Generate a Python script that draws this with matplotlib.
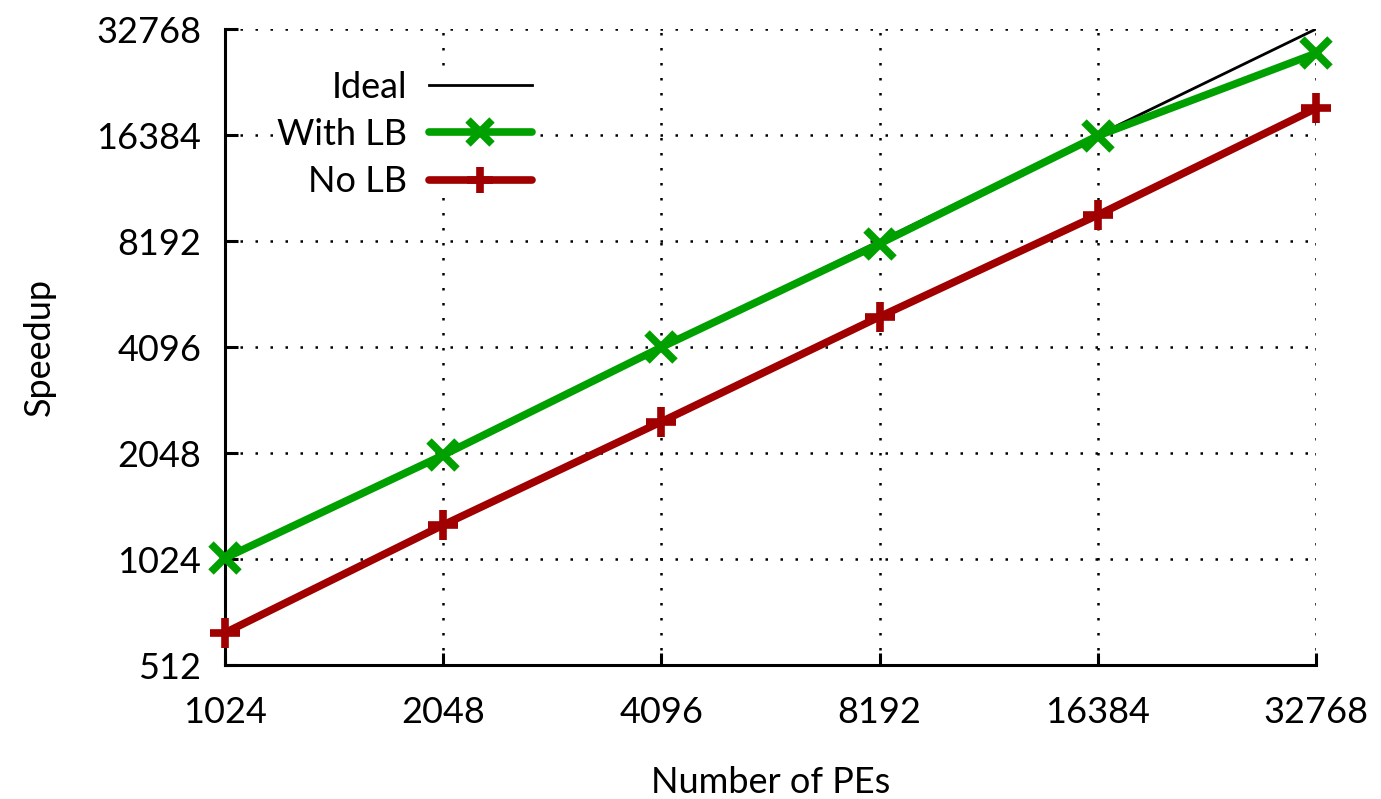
import matplotlib
matplotlib.use("Agg")
import matplotlib.pyplot as plt
from matplotlib.ticker import FixedLocator, NullLocator

plt.rcParams['font.family'] = ['Lato', 'DejaVu Sans']

# speedup measurements (strong scaling)
pes = [1024, 2048, 4096, 8192, 16384, 32768]
ideal = [1024, 2048, 4096, 8192, 16384, 32768]
with_lb = [1030, 2020, 4090, 8050, 16300, 27960]
no_lb = [632, 1279, 2513, 4993, 9710, 19510]
ticks_y = [512, 1024, 2048, 4096, 8192, 16384, 32768]

fs = 26

fig = plt.figure(figsize=(13.81, 7.99), dpi=100)
ax = fig.add_axes([0.1629, 0.1677, 0.953 - 0.1629, 0.9637 - 0.1677])

ax.plot(pes, ideal, color='black', lw=2, label='Ideal', zorder=3)
ax.plot(pes, with_lb, color='#00a000', lw=5.5, marker='x', ms=20, mew=5.5,
        solid_capstyle='round', label='With LB', zorder=4, clip_on=False)
ax.plot(pes, no_lb, color='#a00000', lw=5.5, marker='+', ms=22, mew=5.5,
        solid_capstyle='round', label='No LB', zorder=4, clip_on=False)

ax.set_xscale('log', base=2)
ax.set_yscale('log', base=2)
ax.set_xlim(1024, 32768)
ax.set_ylim(512, 32768)
ax.xaxis.set_major_locator(FixedLocator(pes))
ax.yaxis.set_major_locator(FixedLocator(ticks_y))
ax.xaxis.set_minor_locator(NullLocator())
ax.yaxis.set_minor_locator(NullLocator())
ax.set_xticklabels([str(v) for v in pes])
ax.set_yticklabels([str(v) for v in ticks_y])

ax.grid(True, color='black', linestyle=(0, (1, 5)), lw=1.8)
for s in ('top', 'right'):
    ax.spines[s].set_visible(False)
for s in ('left', 'bottom'):
    ax.spines[s].set_linewidth(2.2)
ax.tick_params(direction='in', length=9, width=2.2, labelsize=fs)
ax.tick_params(axis='x', pad=22)
ax.tick_params(axis='y', pad=17)

ax.set_xlabel('Number of PEs', fontsize=fs, labelpad=27)
ax.set_ylabel('Speedup', fontsize=fs, labelpad=29)

# key drawn on an opaque patch so the grid does not run through it
leg = ax.legend(loc='upper right', bbox_to_anchor=(0.281, 0.934),
                markerfirst=False, fontsize=fs, handlelength=2.85,
                handletextpad=0.6, labelspacing=0.39, numpoints=1,
                borderaxespad=0, borderpad=0, markerscale=0.85,
                frameon=True, fancybox=False, framealpha=1,
                facecolor='white', edgecolor='none')

fig.savefig('out.png', dpi=100)
